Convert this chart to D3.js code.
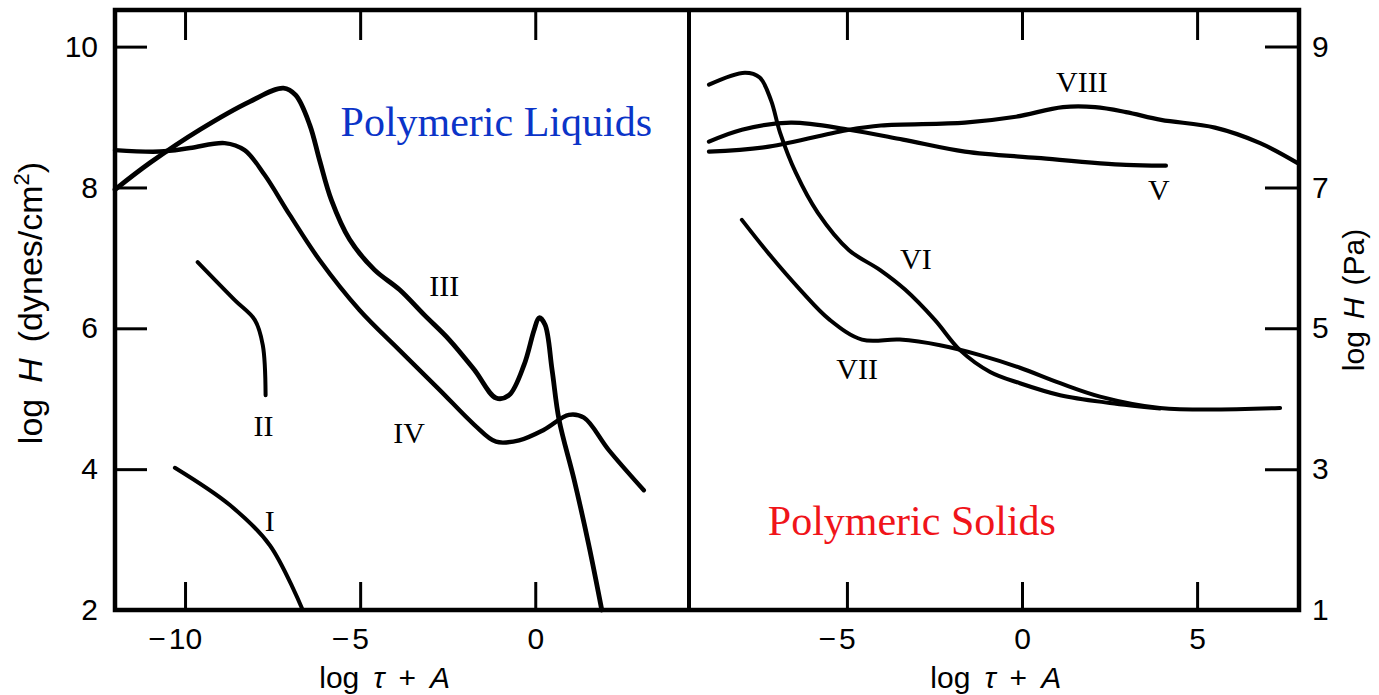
<!DOCTYPE html>
<html>
<head>
<meta charset="utf-8">
<script src="https://cdn.jsdelivr.net/npm/d3@7"></script>
<style>
body { margin: 0; background: #fff; }
svg { display: block; }
</style>
</head>
<body>
<svg id="chart" width="1379" height="695"></svg>
<script>

// log tau + A  vs  log H (dynes/cm2)
var curveI = [[-10.29, 4.02], [-8.72, 3.49], [-7.58, 2.92], [-6.64, 2.0]];
var curveII = [[-9.64, 6.94], [-8.58, 6.40], [-8.01, 6.12], [-7.78, 5.76], [-7.70, 5.05]];
var curveIII = [[-12.0, 7.97], [-11.0, 8.35], [-9.58, 8.82], [-8.15, 9.22], [-7.19, 9.41], [-6.84, 9.31],
    [-6.44, 8.89], [-6.16, 8.39], [-5.82, 7.82], [-5.30, 7.26], [-4.59, 6.83], [-3.88, 6.55],
    [-3.17, 6.19], [-2.46, 5.84], [-1.74, 5.41], [-1.12, 5.01], [-0.75, 5.05], [-0.32, 5.48],
    [-0.03, 5.98], [0.11, 6.15], [0.28, 6.05], [0.48, 5.41], [0.68, 4.70], [1.11, 3.85],
    [1.53, 2.92], [1.90, 2.0]];
var curveIV = [[-12.0, 8.53], [-10.72, 8.51], [-9.86, 8.56], [-8.87, 8.63], [-8.30, 8.53], [-7.73, 8.18],
    [-7.01, 7.61], [-6.16, 6.97], [-5.02, 6.26], [-3.88, 5.69], [-2.74, 5.13], [-1.74, 4.63],
    [-1.12, 4.39], [-0.46, 4.41], [0.25, 4.56], [0.96, 4.77], [1.39, 4.73], [2.10, 4.27], [3.10, 3.70]];

var curveV = [[-8.94, 8.65], [-8.0, 8.82], [-6.6, 8.92], [-4.94, 8.82], [-3.4, 8.68], [-1.63, 8.51],
    [0.43, 8.42], [2.97, 8.32], [4.11, 8.31]];
var curveVI = [[-8.94, 9.46], [-7.91, 9.63], [-7.49, 9.56], [-7.17, 9.24], [-6.91, 8.78], [-6.46, 8.21],
    [-5.83, 7.64], [-4.94, 7.11], [-4.06, 6.83], [-3.34, 6.55], [-2.49, 6.12], [-1.77, 5.69],
    [-0.91, 5.38], [-0.06, 5.22], [1.09, 5.05], [2.51, 4.94], [3.94, 4.86]];
var curveVII = [[-8.0, 7.54], [-7.2, 7.04], [-6.34, 6.55], [-5.49, 6.12], [-4.57, 5.84], [-3.49, 5.84],
    [-2.34, 5.76], [-1.2, 5.62], [-0.06, 5.44], [1.09, 5.22], [2.23, 5.03], [3.94, 4.87], [7.37, 4.87]];
var curveVIII = [[-8.94, 8.51], [-7.23, 8.58], [-4.94, 8.82], [-4.03, 8.88], [-1.63, 8.92], [-0.23, 9.0],
    [1.17, 9.14], [2.09, 9.14], [2.97, 9.07], [3.97, 8.96], [5.51, 8.85], [6.8, 8.63], [7.86, 8.35]];

// curve names and where their numerals sit
var liquidNames = ["I", "II", "III", "IV"];
var liquidLabelPos = [[-7.58, 3.12], [-7.76, 4.47], [-2.60, 6.46], [-3.60, 4.37]];
var solidNames = ["V", "VI", "VII", "VIII"];
var solidLabelPos = [[3.91, 7.82], [-3.03, 6.84], [-4.71, 5.28], [1.71, 9.36]];

var leftXTicks = [-10, -5, 0];
var rightXTicks = [-5, 0, 5];
var leftYTicks = [10, 8, 6, 4, 2];
var rightYTicks = [9, 7, 5, 3, 1];

var svg = d3.select("#chart");
var frame = {left: 115, mid: 689, right: 1299, top: 10, bottom: 610};
var sans = "'Liberation Sans', Arial, Helvetica, sans-serif";
var serif = "'Liberation Serif', 'Times New Roman', serif";

var xLiq = d3.scaleLinear().domain([-12, 4.39]).range([frame.left, frame.mid]);
var xSol = d3.scaleLinear().domain([-9.51, 7.91]).range([frame.mid, frame.right]);
var yDyn = d3.scaleLinear().domain([2, 10.52]).range([frame.bottom, frame.top]);
var yPa = d3.scaleLinear().domain([1, 9.52]).range([frame.bottom, frame.top]);

var styleAxis = function (g) {
    g.select(".domain").remove();
    g.selectAll(".tick line").attr("stroke", "#000").attr("stroke-width", 3);
    g.selectAll(".tick text")
        .attr("fill", "#000")
        .style("font-family", sans)
        .style("font-size", "30px");
};

// x labels: digits centred on the tick, the minus sign hangs to the left
var hangMinus = function (g) {
    g.selectAll(".tick").each(function (d) {
        if (d >= 0) return;
        var tick = d3.select(this);
        var txt = tick.select("text").text(Math.abs(d));
        var half = txt.node().getComputedTextLength() / 2;
        tick.append("text")
            .attr("x", -half - 3)
            .attr("y", txt.attr("y"))
            .attr("dy", txt.attr("dy"))
            .attr("text-anchor", "end")
            .attr("fill", "#000")
            .style("font-family", sans)
            .style("font-size", "30px")
            .text("\u2212");
    });
};

// left panel axes
svg.append("g").attr("transform", "translate(0," + frame.bottom + ")")
    .call(d3.axisBottom(xLiq).tickValues(leftXTicks).tickSize(-28).tickSizeOuter(0).tickPadding(18))
    .call(styleAxis).call(hangMinus);
svg.append("g").attr("transform", "translate(0," + frame.top + ")")
    .call(d3.axisTop(xLiq).tickValues(leftXTicks).tickSize(-30).tickSizeOuter(0).tickFormat(""))
    .call(styleAxis);
svg.append("g").attr("transform", "translate(" + frame.left + ",0)")
    .call(d3.axisLeft(yDyn).tickValues(leftYTicks).tickSize(-32).tickSizeOuter(0).tickPadding(17))
    .call(styleAxis);

// right panel axes
svg.append("g").attr("transform", "translate(0," + frame.bottom + ")")
    .call(d3.axisBottom(xSol).tickValues(rightXTicks).tickSize(-28).tickSizeOuter(0).tickPadding(18))
    .call(styleAxis).call(hangMinus);
svg.append("g").attr("transform", "translate(0," + frame.top + ")")
    .call(d3.axisTop(xSol).tickValues(rightXTicks).tickSize(-30).tickSizeOuter(0).tickFormat(""))
    .call(styleAxis);
svg.append("g").attr("transform", "translate(" + frame.right + ",0)")
    .call(d3.axisRight(yPa).tickValues(rightYTicks).tickSize(-34).tickSizeOuter(0).tickPadding(13))
    .call(styleAxis);

// frame and divider
svg.append("rect")
    .attr("x", frame.left).attr("y", frame.top)
    .attr("width", frame.right - frame.left).attr("height", frame.bottom - frame.top)
    .attr("fill", "none").attr("stroke", "#000").attr("stroke-width", 4.5);
svg.append("line")
    .attr("x1", frame.mid).attr("x2", frame.mid)
    .attr("y1", frame.top).attr("y2", frame.bottom)
    .attr("stroke", "#000").attr("stroke-width", 4);

var drawCurves = function (curves, xScale, width) {
    var line = d3.line()
        .x(function (d) { return xScale(d[0]); })
        .y(function (d) { return yDyn(d[1]); })
        .curve(d3.curveCatmullRom.alpha(0.5));
    svg.append("g").selectAll("path")
        .data(curves)
        .enter().append("path")
        .attr("d", line)
        .attr("fill", "none")
        .attr("stroke", "#000")
        .attr("stroke-width", function (d, i) { return width[i]; })
        .attr("stroke-linecap", "round")
        .attr("stroke-linejoin", "round");
};

drawCurves([curveI, curveII, curveIII, curveIV], xLiq, [4, 4, 4.8, 4.4]);
drawCurves([curveV, curveVI, curveVII, curveVIII], xSol, [4.2, 4, 4, 4.2]);

var drawNames = function (names, pos, xScale) {
    svg.append("g").selectAll("text")
        .data(names)
        .enter().append("text")
        .attr("x", function (d, i) { return xScale(pos[i][0]); })
        .attr("y", function (d, i) { return yDyn(pos[i][1]); })
        .attr("text-anchor", "middle")
        .style("font-family", serif)
        .style("font-size", "30px")
        .text(function (d) { return d; });
};

drawNames(liquidNames, liquidLabelPos, xLiq);
drawNames(solidNames, solidLabelPos, xSol);

// panel titles
svg.append("text")
    .attr("x", xLiq(-5.56)).attr("y", yDyn(8.73))
    .attr("fill", "#0b34c8")
    .style("font-family", serif).style("font-size", "42px")
    .text("Polymeric Liquids");
svg.append("text")
    .attr("x", xSol(-7.26)).attr("y", yDyn(3.07))
    .attr("fill", "#f0141a")
    .style("font-family", serif).style("font-size", "42px")
    .text("Polymeric Solids");

// x axis titles
var xTitle = function (x) {
    var t = svg.append("text")
        .attr("x", x).attr("y", 688)
        .attr("text-anchor", "middle")
        .style("font-family", sans).style("font-size", "30px");
    t.append("tspan").text("log");
    t.append("tspan").attr("dx", 14).style("font-style", "italic").text("τ");
    t.append("tspan").attr("dx", 14).text("+");
    t.append("tspan").attr("dx", 14).style("font-style", "italic").text("A");
};
xTitle(xLiq(-4.3));
xTitle(xSol(-0.75));

// y axis titles
var leftTitle = svg.append("text")
    .attr("transform", "translate(42,303) rotate(-90)")
    .attr("text-anchor", "middle")
    .style("font-family", sans).style("font-size", "34px");
leftTitle.append("tspan").text("log");
leftTitle.append("tspan").attr("dx", 16).style("font-style", "italic").text("H");
leftTitle.append("tspan").attr("dx", 16).text("(dynes/cm");
leftTitle.append("tspan").attr("dy", -13).style("font-size", "22px").text("2");
leftTitle.append("tspan").attr("dy", 13).text(")");

var rightTitle = svg.append("text")
    .attr("transform", "translate(1364,300) rotate(-90)")
    .attr("text-anchor", "middle")
    .style("font-family", sans).style("font-size", "30px");
rightTitle.append("tspan").text("log");
rightTitle.append("tspan").attr("dx", 12).style("font-style", "italic").text("H");
rightTitle.append("tspan").attr("dx", 12).text("(Pa)");

</script>
</body>
</html>
